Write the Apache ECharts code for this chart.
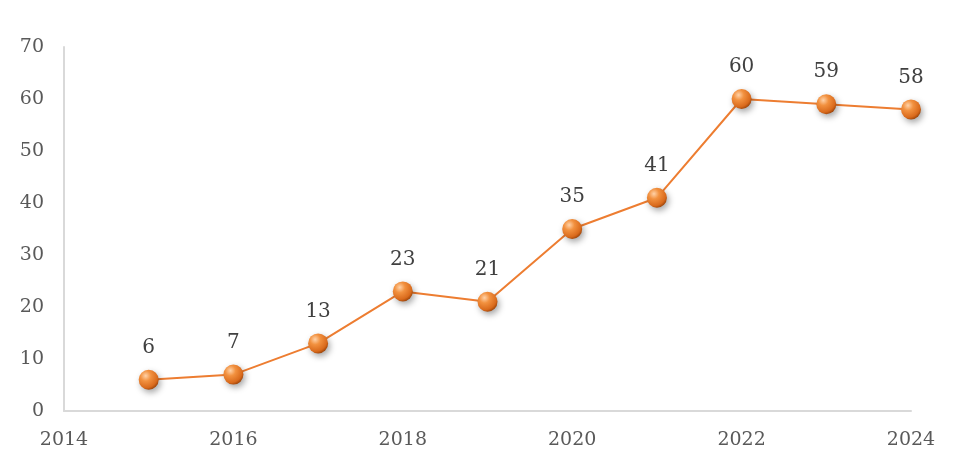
<!DOCTYPE html>
<html>
<head>
<meta charset="utf-8">
<script src="https://cdn.jsdelivr.net/npm/echarts@6/dist/echarts.min.js"></script>
<style>
  html, body { margin: 0; padding: 0; background: #fff; }
  #chart { width: 971px; height: 476px; }
</style>
</head>
<body>
<div id="chart"></div>
<script>
    // 年份和数值
    var years = [2015, 2016, 2017, 2018, 2019, 2020, 2021, 2022, 2023, 2024];
    var counts = [6, 7, 13, 23, 21, 35, 41, 60, 59, 58];

    var points = years.map(function (y, i) { return [y, counts[i]]; });

    var myChart = echarts.init(document.getElementById('chart'));

    var ball = new echarts.graphic.RadialGradient(0.35, 0.3, 0.75, [
        {offset: 0, color: '#ffd2a8'},
        {offset: 0.35, color: '#f2913f'},
        {offset: 0.8, color: '#d96a1c'},
        {offset: 1, color: '#9a4208'}
    ]);

    myChart.setOption({
        animation: false,
        grid: {
            left: 64,
            right: 60,
            top: 47,
            bottom: 65
        },
        xAxis: {
            type: 'value',
            min: 2014,
            max: 2024,
            interval: 2,
            axisLine: {show: true, lineStyle: {color: '#d9d9d9', width: 2}},
            axisTick: {show: false},
            splitLine: {show: false},
            axisLabel: {
                color: '#595959',
                fontSize: 19,
                fontFamily: 'DejaVu Serif',
                margin: 20,
                formatter: function (v) { return String(v); }
            }
        },
        yAxis: {
            type: 'value',
            min: 0,
            max: 70,
            interval: 10,
            axisLine: {show: true, lineStyle: {color: '#d9d9d9', width: 2}},
            axisTick: {show: false},
            splitLine: {show: false},
            axisLabel: {
                color: '#595959',
                fontSize: 19,
                fontFamily: 'DejaVu Serif',
                margin: 20
            }
        },
        series: [{
            type: 'line',
            data: points,
            symbol: 'circle',
            symbolSize: 20,
            lineStyle: {color: '#ed7d31', width: 2},
            itemStyle: {
                color: ball,
                borderWidth: 0,
                shadowBlur: 6,
                shadowOffsetX: 2,
                shadowOffsetY: 3,
                shadowColor: 'rgba(0, 0, 0, 0.35)'
            },
            label: {
                show: true,
                position: 'top',
                distance: 12,
                color: '#404040',
                fontSize: 20,
                fontFamily: 'DejaVu Serif'
            }
        }]
    });
</script>
</body>
</html>
